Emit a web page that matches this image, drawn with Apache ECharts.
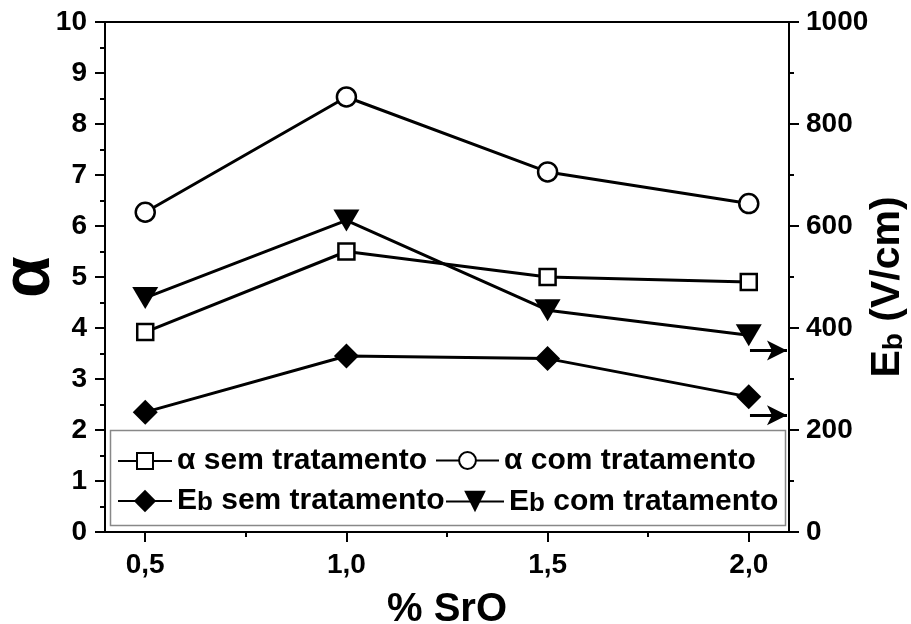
<!DOCTYPE html>
<html>
<head>
<meta charset="utf-8">
<script src="https://cdn.jsdelivr.net/npm/echarts@6/dist/echarts.min.js"></script>
<style>
  html, body { margin: 0; padding: 0; background: #fff; }
  #chart { width: 911px; height: 624px; }
</style>
</head>
<body>
<div id="chart"></div>
<script>
// % SrO content of each sample
const srO = [0.5, 1.0, 1.5, 2.0];
// Nonlinearity coefficient (left axis)
const alphaSem = [3.92, 5.50, 5.00, 4.90];
const alphaCom = [6.27, 8.53, 7.06, 6.44];
// Breakdown field Eb in V/cm (right axis)
const ebSem = [235, 345, 340, 265];
const ebCom = [459, 611, 435, 386];
// Bottom axis ticks and their labels
const xMajorTicks = [0.5, 1.0, 1.5, 2.0];
const xMinorTicks = [0.75, 1.25, 1.75];
const xTickLabels = ['0,5', '1,0', '1,5', '2,0'];
// Arrows pointing the Eb curves to the right-hand axis (x range, Eb level)
const arrowX = [2.003, 2.095];
const arrowEbCom = 356;
const arrowEbSem = 229;

const FONT = '"Liberation Sans", Arial, sans-serif';
const pair = (xs, ys) => xs.map((x, i) => [x, ys[i]]);

const chart = echarts.init(document.getElementById('chart'), null, { renderer: 'canvas' });

const richText = {
  n: { fontSize: 30, fontWeight: 'bold', fontFamily: FONT, color: '#000', lineHeight: 36 },
  m: { fontSize: 30, fontWeight: 'bold', fontFamily: FONT, color: '#000', lineHeight: 30, verticalAlign: 'top' },
  s: { fontSize: 26, fontWeight: 'bold', fontFamily: FONT, color: '#000', lineHeight: 26, verticalAlign: 'bottom', padding: [11, 0, 0, 0] }
};
function legendFormat(name) {
  if (name.indexOf('Eb') === 0) {
    return '{m|E}{s|b}{m|' + name.slice(2) + '}';
  }
  return '{n|' + name + '}';
}
// One legend block per entry so each sits where it belongs inside the box
function makeLegend(name, left, centerY, width, height) {
  return {
    data: [name],
    left: left, top: centerY - height / 2, padding: 0,
    itemWidth: width, itemHeight: height,
    orient: 'horizontal',
    selectedMode: false,
    formatter: legendFormat,
    textStyle: { rich: richText, fontSize: 30, fontWeight: 'bold', fontFamily: FONT, color: '#000' }
  };
}

const lineStyle = { color: '#000', width: 3 };
const arrowLine = (lvl) => [{ coord: [arrowX[0], lvl] }, { coord: [arrowX[1], lvl] }];
const arrowMark = (lvl) => ({
  silent: true, symbol: ['none', 'arrow'], symbolSize: [15, 20],
  label: { show: false },
  lineStyle: { color: '#000', width: 3, type: 'solid' },
  data: [arrowLine(lvl)]
});

const option = {
  animation: false,
  backgroundColor: '#fff',
  grid: {
    left: 105, right: 122, top: 22, bottom: 92,
    outerBoundsMode: 'none', containLabel: false,
    show: true, borderColor: '#000', borderWidth: 2, backgroundColor: 'transparent'
  },
  graphic: [{
    type: 'rect', z: 1,
    shape: { x: 110.5, y: 430.5, width: 675, height: 95 },
    style: { fill: '#fff', stroke: '#888', lineWidth: 1.5 }
  }],
  legend: [
    makeLegend('α sem tratamento', 117, 456, 54, 20),
    makeLegend('α com tratamento', 435, 456, 63, 21),
    makeLegend('Eb sem tratamento', 117, 493, 54, 28),
    makeLegend('Eb com tratamento', 445, 493, 58, 27)
  ],
  xAxis: [{
    type: 'value', min: 0.4, max: 2.1,
    name: '% SrO', nameLocation: 'middle', nameGap: 58, nameMoveOverlap: false,
    nameTextStyle: { fontSize: 40, fontWeight: 'bold', fontFamily: FONT, color: '#000' },
    axisLine: { lineStyle: { color: '#000', width: 2 } },
    axisTick: { show: true, length: 10, lineStyle: { color: '#000', width: 2 }, customValues: xMajorTicks },
    axisLabel: {
      margin: 19, fontSize: 28, fontWeight: 'bold', fontFamily: FONT, color: '#000',
      customValues: xMajorTicks,
      formatter: (v) => xTickLabels[xMajorTicks.findIndex(t => Math.abs(t - v) < 1e-6)] || ''
    },
    splitLine: { show: false }
  }, {
    type: 'value', min: 0.4, max: 2.1, position: 'bottom',
    axisLine: { show: false },
    axisTick: { show: true, length: 5, lineStyle: { color: '#000', width: 2 }, customValues: xMinorTicks },
    axisLabel: { show: false },
    splitLine: { show: false }
  }],
  yAxis: [{
    type: 'value', min: 0, max: 10, interval: 1, position: 'left',
    name: 'α', nameLocation: 'middle', nameGap: 41, nameRotate: 90, nameMoveOverlap: false,
    nameTextStyle: { fontSize: 68, fontWeight: 'bold', fontFamily: FONT, color: '#000' },
    axisLine: { show: true, lineStyle: { color: '#000', width: 2 } },
    axisTick: { show: true, length: 10, lineStyle: { color: '#000', width: 2 } },
    minorTick: { show: true, splitNumber: 2, length: 5, lineStyle: { color: '#000', width: 2 } },
    axisLabel: { margin: 18, fontSize: 28, fontWeight: 'bold', fontFamily: FONT, color: '#000' },
    splitLine: { show: false }
  }, {
    type: 'value', min: 0, max: 1000, interval: 200, position: 'right',
    name: '{m|E}{s|b}{m| (V/cm)}', nameLocation: 'middle', nameGap: 78, nameRotate: 90, nameMoveOverlap: false,
    nameTextStyle: {
      fontSize: 41, fontWeight: 'bold', fontFamily: FONT, color: '#000',
      padding: [0, 20, 0, 0],
      rich: {
        m: { fontSize: 41, fontWeight: 'bold', fontFamily: FONT, color: '#000', lineHeight: 41, verticalAlign: 'top' },
        s: { fontSize: 28, fontWeight: 'bold', fontFamily: FONT, color: '#000', lineHeight: 28, verticalAlign: 'bottom', padding: [14, 0, 0, 0] }
      }
    },
    axisLine: { show: true, lineStyle: { color: '#000', width: 2 } },
    axisTick: { show: true, length: 10, lineStyle: { color: '#000', width: 2 } },
    minorTick: { show: true, splitNumber: 2, length: 5, lineStyle: { color: '#000', width: 2 } },
    axisLabel: {
      margin: 17, fontSize: 28, fontWeight: 'bold', fontFamily: FONT, color: '#000',
      formatter: (v) => String(v)
    },
    splitLine: { show: false }
  }],
  series: [{
    name: 'α sem tratamento', type: 'line', xAxisIndex: 0, yAxisIndex: 0, z: 3,
    data: pair(srO, alphaSem),
    symbol: 'rect', symbolSize: 16,
    lineStyle: lineStyle,
    itemStyle: { color: '#fff', borderColor: '#000', borderWidth: 2.5 }
  }, {
    name: 'α com tratamento', type: 'line', xAxisIndex: 0, yAxisIndex: 0, z: 3,
    data: pair(srO, alphaCom),
    symbol: 'circle', symbolSize: 19,
    lineStyle: lineStyle,
    itemStyle: { color: '#fff', borderColor: '#000', borderWidth: 2.5 }
  }, {
    name: 'Eb sem tratamento', type: 'line', xAxisIndex: 0, yAxisIndex: 1, z: 3,
    data: pair(srO, ebSem),
    symbol: 'diamond', symbolSize: 25,
    lineStyle: lineStyle,
    itemStyle: { color: '#000', borderColor: '#000', borderWidth: 0 },
    markLine: arrowMark(arrowEbSem)
  }, {
    name: 'Eb com tratamento', type: 'line', xAxisIndex: 0, yAxisIndex: 1, z: 3,
    data: pair(srO, ebCom),
    symbol: 'triangle', symbolRotate: 180, symbolSize: [26, 22],
    lineStyle: lineStyle,
    itemStyle: { color: '#000', borderColor: '#000', borderWidth: 0 },
    markLine: arrowMark(arrowEbCom)
  }]
};

chart.setOption(option);
</script>
</body>
</html>
